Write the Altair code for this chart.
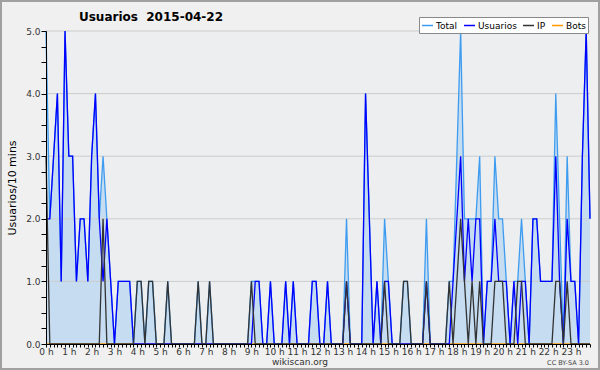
import altair as alt
import pandas as pd

# 10-minute slots of 2015-04-22 (144 slots)
total = [5,2,3,4,1,5,3,3,1,2,2,1,3,4,2,3,2,1,0,1,1,1,1,0,
         1,1,0,1,1,0,0,0,1,0,0,0,0,0,0,0,1,0,0,1,0,0,0,0,
         0,0,0,0,0,0,1,1,1,0,0,1,0,0,0,1,0,1,0,0,0,0,1,1,
         0,0,1,0,0,0,0,2,0,0,0,0,4,2,0,1,0,2,1,0,0,0,1,1,
         0,0,0,0,2,0,0,0,0,0,1,1,3,5,2,2,2,2,3,0,1,1,3,2,
         2,1,0,1,1,2,1,0,2,2,1,1,1,1,4,2,0,3,1,1,0,3,5,2]
usuarios = [2,2,3,4,1,5,3,3,1,2,2,1,3,4,2,1,2,1,0,1,1,1,1,0,
            0,0,0,0,0,0,0,0,0,0,0,0,0,0,0,0,0,0,0,0,0,0,0,0,
            0,0,0,0,0,0,0,1,1,0,0,1,0,0,0,1,0,1,0,0,0,0,1,1,
            0,0,1,0,0,0,0,1,0,0,0,0,4,2,0,1,0,1,1,0,0,0,0,0,
            0,0,0,0,1,0,0,0,0,0,0,1,2,3,1,2,1,2,2,0,1,1,2,1,
            1,1,0,1,0,1,1,0,2,2,1,1,1,1,3,1,0,2,1,1,0,3,5,2]
ip = [3,0,0,0,0,0,0,0,0,0,0,0,0,0,0,2,0,0,0,0,0,0,0,0,
      1,1,0,1,1,0,0,0,1,0,0,0,0,0,0,0,1,0,0,1,0,0,0,0,
      0,0,0,0,0,0,1,0,0,0,0,0,0,0,0,0,0,0,0,0,0,0,0,0,
      0,0,0,0,0,0,0,1,0,0,0,0,0,0,0,0,0,1,0,0,0,0,1,1,
      0,0,0,0,1,0,0,0,0,0,1,0,1,2,1,0,1,0,1,0,0,0,1,1,
      1,0,0,0,1,1,0,0,0,0,0,0,0,0,1,1,0,1,0,0,0,0,0,0]
bots = [0] * 144

series_names = ["Total", "Usuarios", "IP", "Bots"]
series_colors = ["#3d9cf0", "#0000ff", "#333333", "#ff9900"]
y_grid = [1, 2, 3, 4, 5]
title_text = "Usuarios\u00a0 2015-04-22"

hours = [i / 6 for i in range(144)]
rows = []
for name, vals in zip(series_names, [total, usuarios, ip, bots]):
    for h, v in zip(hours, vals):
        rows.append({"h": h, "v": v, "series": name})
df = pd.DataFrame(rows)
df_total = pd.DataFrame({"h": hours, "v": total})
grid_df = pd.DataFrame({"g": y_grid})

FONT = "DejaVu Sans"
IS_INT = "abs(datum.value - round(datum.value)) < 0.001"

xscale = alt.Scale(domain=[0, 143 / 6], nice=False, zero=False)
yscale = alt.Scale(domain=[0, 5], nice=False)

x_axis = alt.Axis(
    values=hours,
    labelExpr=IS_INT + " ? round(datum.value) + ' h' : ''",
    labelOverlap=False, labelFlush=False, labelFont=FONT, labelFontSize=9,
    labelColor="#333333", labelPadding=0,
    tickSize=3,
    tickColor="#000000", domainColor="#000000", grid=False, title=None, zindex=1,
)
y_axis = alt.Axis(
    values=[k * 0.25 for k in range(21)],
    labelExpr=IS_INT + " ? format(datum.value, '.1f') : ''",
    labelOverlap=False, labelFont=FONT, labelFontSize=9, labelColor="#333333",
    labelPadding=1, tickSize=5, tickColor="#000000", domainColor="#000000",
    grid=False, title="Usuarios/10 mins", titleFont=FONT, titleFontSize=11,
    titleFontWeight="normal", titleColor="#000000", titlePadding=8, zindex=1,
)

X = alt.X("h:Q", scale=xscale, axis=x_axis)
Y = alt.Y("v:Q", scale=yscale, axis=y_axis)

area = alt.Chart(df_total).mark_area(color="#c6dcf0", opacity=1).encode(x=X, y=Y)

grid = alt.Chart(grid_df).mark_rule(color="#cccccc", strokeWidth=1).encode(
    y=alt.Y("g:Q", scale=yscale, axis=y_axis)
)

color = alt.Color(
    "series:N",
    scale=alt.Scale(domain=series_names, range=series_colors),
    legend=alt.Legend(
        title=None, orient="none", legendX=373, legendY=-14, direction="horizontal",
        symbolType="stroke", symbolSize=121, symbolStrokeWidth=1.5,
        labelFont=FONT, labelFontSize=9, labelColor="#000000", labelOffset=2,
        columnPadding=3, padding=2, fillColor="#ffffff", strokeColor="#888888",
        gridAlign="none",
    ),
)

lines = []
for name in ["Bots", "Total", "Usuarios", "IP"]:
    lines.append(
        alt.Chart(df[df.series == name]).mark_line(strokeWidth=1.3, interpolate="linear").encode(
            x=X, y=Y, color=color,
        )
    )

title = alt.Chart(pd.DataFrame({"t": [title_text]})).mark_text(
    font=FONT, fontSize=12, fontWeight="bold", color="#000000", align="center", baseline="middle"
).encode(x=alt.value(105), y=alt.value(-14), text="t:N")
footer_left = alt.Chart(pd.DataFrame({"t": ["wikiscan.org"]})).mark_text(
    font=FONT, fontSize=9, color="#333333", align="center", baseline="middle"
).encode(x=alt.value(254), y=alt.value(331), text="t:N")
footer_right = alt.Chart(pd.DataFrame({"t": ["CC BY-SA 3.0"]})).mark_text(
    font=FONT, fontSize=6.5, color="#444444", align="right", baseline="middle"
).encode(x=alt.value(543), y=alt.value(332), text="t:N")
frame = alt.Chart(pd.DataFrame({"a": [0]})).mark_rect(
    fill=None, stroke="#a0a0a0", strokeWidth=2
).encode(x=alt.value(-45), x2=alt.value(553), y=alt.value(-30), y2=alt.value(338))

chart = alt.layer(area, grid, *lines, title, footer_left, footer_right, frame).properties(
    width=544, height=313,
    padding={"left": 46, "top": 31, "right": 10, "bottom": 26},
    autosize=alt.AutoSizeParams(type="none"),
    background="#f0f0f0",
).configure_view(fill="#eceef0", stroke=None)

chart.save("out.html", embed_options={"renderer": "svg", "actions": False})
